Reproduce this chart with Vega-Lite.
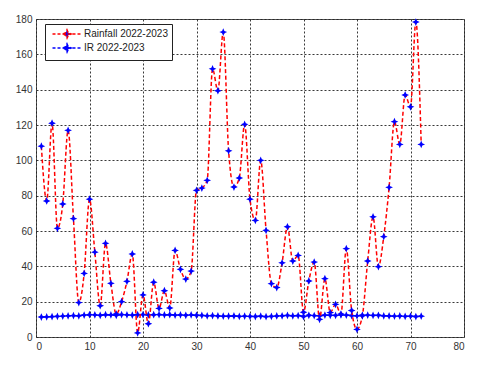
{
  "$schema": "https://vega.github.io/schema/vega-lite/v6.json",
  "width": 428,
  "height": 318,
  "autosize": {"type": "none"},
  "padding": {"left": 36, "top": 19, "right": 16, "bottom": 31},
  "background": "white",
  "config": {
    "view": {"stroke": "#555", "strokeWidth": 1},
    "font": "Liberation Sans",
    "axis": {
      "grid": true, "gridColor": "#222", "gridDash": [2, 2], "gridWidth": 1, "gridOpacity": 0.9,
      "ticks": false, "domain": false,
      "labelFontSize": 10, "labelColor": "#333", "labelPadding": 4, "title": null
    }
  },
  "datasets": {
    "rain": [
      {"x":1,"v":108},{"x":2,"v":77},{"x":3,"v":121},{"x":4,"v":61.5},{"x":5,"v":75.3},{"x":6,"v":117},{"x":7,"v":67},{"x":8,"v":19.5},{"x":9,"v":36},{"x":10,"v":78},
      {"x":11,"v":48},{"x":12,"v":17.7},{"x":13,"v":53},{"x":14,"v":30.4},{"x":15,"v":13},{"x":16,"v":20},{"x":17,"v":31.5},{"x":18,"v":47},{"x":19,"v":2.3},{"x":20,"v":23.8},
      {"x":21,"v":7.5},{"x":22,"v":31},{"x":23,"v":16.2},{"x":24,"v":26.2},{"x":25,"v":16.4},{"x":26,"v":49},{"x":27,"v":38.3},{"x":28,"v":32.8},{"x":29,"v":37.3},{"x":30,"v":83},
      {"x":31,"v":84.3},{"x":32,"v":88.7},{"x":33,"v":151.8},{"x":34,"v":139.4},{"x":35,"v":172.6},{"x":36,"v":105.4},{"x":37,"v":84.9},{"x":38,"v":90},{"x":39,"v":120.4},{"x":40,"v":78},
      {"x":41,"v":66},{"x":42,"v":100},{"x":43,"v":60.4},{"x":44,"v":30.2},{"x":45,"v":28},{"x":46,"v":42},{"x":47,"v":62.4},{"x":48,"v":43},{"x":49,"v":46.2},{"x":50,"v":14},
      {"x":51,"v":31.7},{"x":52,"v":42.4},{"x":53,"v":10},{"x":54,"v":33},{"x":55,"v":13.8},{"x":56,"v":18.5},{"x":57,"v":13},{"x":58,"v":50},{"x":59,"v":15},{"x":60,"v":4.3},
      {"x":61,"v":12},{"x":62,"v":43},{"x":63,"v":68},{"x":64,"v":39.8},{"x":65,"v":56.8},{"x":66,"v":84.7},{"x":67,"v":121.9},{"x":68,"v":109},{"x":69,"v":137},{"x":70,"v":130.3},
      {"x":71,"v":178.3},{"x":72,"v":109}
    ],
    "ir": [
      {"x":1,"v":11.3},{"x":2,"v":11.4},{"x":3,"v":11.5},{"x":4,"v":11.7},{"x":5,"v":11.8},{"x":6,"v":12.0},{"x":7,"v":12.1},{"x":8,"v":12.0},{"x":9,"v":12.4},{"x":10,"v":12.6},
      {"x":11,"v":12.5},{"x":12,"v":12.3},{"x":13,"v":12.6},{"x":14,"v":12.5},{"x":15,"v":12.3},{"x":16,"v":12.7},{"x":17,"v":12.5},{"x":18,"v":12.4},{"x":19,"v":12.6},{"x":20,"v":12.7},
      {"x":21,"v":12.5},{"x":22,"v":12.6},{"x":23,"v":12.7},{"x":24,"v":12.5},{"x":25,"v":12.6},{"x":26,"v":12.4},{"x":27,"v":12.5},{"x":28,"v":12.3},{"x":29,"v":12.5},{"x":30,"v":12.3},
      {"x":31,"v":12.2},{"x":32,"v":12.0},{"x":33,"v":12.1},{"x":34,"v":11.9},{"x":35,"v":11.8},{"x":36,"v":11.8},{"x":37,"v":11.9},{"x":38,"v":11.7},{"x":39,"v":11.8},{"x":40,"v":11.7},
      {"x":41,"v":11.6},{"x":42,"v":11.8},{"x":43,"v":11.5},{"x":44,"v":11.7},{"x":45,"v":11.9},{"x":46,"v":12.0},{"x":47,"v":12.2},{"x":48,"v":12.0},{"x":49,"v":12.1},{"x":50,"v":11.6},
      {"x":51,"v":12.3},{"x":52,"v":12.1},{"x":53,"v":12.0},{"x":54,"v":12.4},{"x":55,"v":12.3},{"x":56,"v":12.2},{"x":57,"v":12.5},{"x":58,"v":12.4},{"x":59,"v":12.1},{"x":60,"v":12.0},
      {"x":61,"v":12.3},{"x":62,"v":12.4},{"x":63,"v":12.2},{"x":64,"v":12.3},{"x":65,"v":12.0},{"x":66,"v":11.9},{"x":67,"v":11.8},{"x":68,"v":11.9},{"x":69,"v":11.7},{"x":70,"v":11.8},
      {"x":71,"v":11.6},{"x":72,"v":11.8}
    ]
  },
  "encoding": {
    "x": {"field": "x", "type": "quantitative", "scale": {"domain": [0, 80], "nice": false, "zero": false}, "axis": {"values": [0,10,20,30,40,50,60,70,80]}},
    "y": {"field": "v", "type": "quantitative", "scale": {"domain": [0, 180], "nice": false}, "axis": {"values": [0,20,40,60,80,100,120,140,160,180]}}
  },
  "layer": [
    {
      "data": {"name": "ir"},
      "transform": [{"calculate": "'IR 2022-2023'", "as": "series"}],
      "mark": {"type": "line", "strokeDash": [4, 2.5], "strokeWidth": 1.5},
      "encoding": {"color": {"field": "series", "type": "nominal", "scale": {"domain": ["Rainfall 2022-2023", "IR 2022-2023"], "range": ["red", "blue"]},
        "legend": {"title": null, "orient": "none", "legendX": 9, "legendY": 5, "direction": "vertical",
          "strokeColor": "#222", "fillColor": "white", "padding": 4, "labelFontSize": 10, "labelColor": "#222", "labelFont": "Liberation Sans",
          "symbolType": "M-2.9,0L2.9,0M0,-0.84L0.25,-0.25L0.84,0L0.25,0.25L0,0.84L-0.25,0.25L-0.84,0L-0.25,-0.25Z",
          "symbolSize": 100, "symbolStrokeWidth": 1.5, "rowPadding": -4, "labelOffset": 11, "symbolOffset": 12,
          "encode": {"symbols": {"update": {"fill": {"value": "blue"}, "fillOpacity": {"value": 1}, "strokeDash": {"value": [3, 2]}}}}}}}
    },
    {
      "data": {"name": "ir"},
      "mark": {"type": "point", "filled": true, "color": "blue", "opacity": 1, "size": 60, "shape": "M0,-1L0.3,-0.3L1,0L0.3,0.3L0,1L-0.3,0.3L-1,0L-0.3,-0.3Z"}
    },
    {
      "data": {"name": "rain"},
      "transform": [{"calculate": "'Rainfall 2022-2023'", "as": "series"}],
      "mark": {"type": "line", "strokeDash": [4, 2.5], "strokeWidth": 1.5, "interpolate": "monotone"},
      "encoding": {"color": {"field": "series", "type": "nominal"}}
    },
    {
      "data": {"name": "rain"},
      "mark": {"type": "point", "filled": true, "color": "blue", "opacity": 1, "size": 60, "shape": "M0,-1L0.3,-0.3L1,0L0.3,0.3L0,1L-0.3,0.3L-1,0L-0.3,-0.3Z"}
    }
  ]
}
